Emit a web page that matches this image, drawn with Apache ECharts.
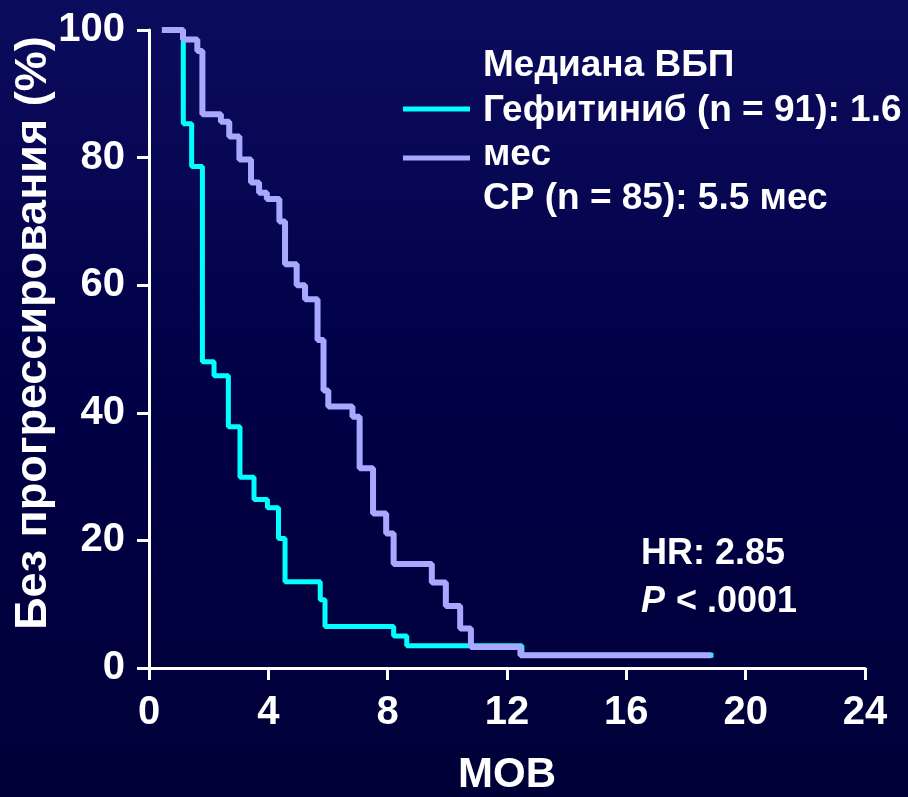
<!DOCTYPE html>
<html><head><meta charset="utf-8">
<script src="https://cdn.jsdelivr.net/npm/echarts@6/dist/echarts.min.js"></script>
<style>html,body{margin:0;padding:0;background:#00003f}#c{width:908px;height:797px}</style>
</head><body><div id="c"></div>
<script>
// Data (months, % progression-free)
const gefTimes = [0.45, 1.15, 1.43, 1.79, 2.18, 2.66, 3.05, 3.52, 3.97, 4.34, 4.56, 5.74, 5.90, 8.20, 8.64, 12.50, 18.92];
const gefSurv  = [100, 85.3, 78.6, 48.0, 45.8, 37.8, 29.9, 26.4, 25.1, 20.3, 13.5, 10.7, 6.5, 5.0, 3.5, 2.0, 2.0];
const cpTimes = [0.43, 1.14, 1.62, 1.79, 2.41, 2.69, 3.03, 3.42, 3.69, 3.95, 4.37, 4.56, 4.95, 5.23, 5.65, 5.85, 6.01, 6.82, 7.06, 7.51, 7.95, 8.20, 9.48, 9.95, 10.43, 10.79, 12.45, 18.85];
const cpSurv  = [100, 98.5, 96.7, 86.8, 85.6, 83.3, 79.7, 76.1, 74.5, 73.5, 70.0, 63.3, 60.0, 57.8, 51.4, 43.5, 41.0, 39.4, 31.3, 24.2, 21.1, 16.3, 13.4, 9.7, 6.2, 3.3, 2.0, 2.0];
const xTicks = [0, 4, 8, 12, 16, 20, 24];
const yTicks = [0, 20, 40, 60, 80, 100];
const xTitle = 'МОВ';
const yTitle = 'Без прогрессирования (%)';
const legendTitle = 'Медиана ВБП';
const legendLines = ['Гефитиниб (n = 91): 1.6', 'мес', 'СР (n = 85): 5.5 мес'];
const statLines = ['HR: 2.85', '< .0001'];

const chart = echarts.init(document.getElementById('c'));
const sans = '"Liberation Sans", Arial, sans-serif';
const axisCommon = {
  axisLine: {show: true, lineStyle: {color: '#ffffff', width: 3}},
  axisTick: {show: true, inside: false, length: 12, lineStyle: {color: '#ffffff', width: 3}},
  splitLine: {show: false}
};
const zip = (a, b) => a.map((t, i) => [t, b[i]]);
const txt = (s, x, y, extra) => ({type: 'text', x: x, y: y,
  style: Object.assign({text: s, fill: '#fff', font: 'bold 37px ' + sans, verticalAlign: 'middle', align: 'left'}, extra || {})});
chart.setOption({
  backgroundColor: {type: 'linear', x: 0, y: 0, x2: 0, y2: 1, colorStops: [
    {offset: 0, color: '#0c0c5e'}, {offset: 0.5, color: '#000046'}, {offset: 1, color: '#000038'}]},
  animation: false,
  grid: {left: 149, right: 43, top: 30, bottom: 129, containLabel: false, outerBoundsMode: 'none'},
  xAxis: Object.assign({
    type: 'value', min: xTicks[0], max: xTicks[xTicks.length - 1], interval: 4,
    name: xTitle, nameLocation: 'middle', nameGap: 86,
    nameTextStyle: {color: '#fff', fontSize: 42, fontWeight: 'bold', fontFamily: sans},
    axisLabel: {color: '#fff', fontSize: 40, fontWeight: 'bold', fontFamily: sans, margin: 25}
  }, axisCommon),
  yAxis: Object.assign({
    type: 'value', min: yTicks[0], max: yTicks[yTicks.length - 1], interval: 20,
    axisLabel: {color: '#fff', fontSize: 40, fontWeight: 'bold', fontFamily: sans, margin: 24}
  }, axisCommon),
  series: [
    {type: 'line', step: 'end', data: zip(gefTimes, gefSurv), symbol: 'none',
     lineStyle: {color: '#00ffff', width: 5}},
    {type: 'line', step: 'end', data: zip(cpTimes, cpSurv), symbol: 'none',
     lineStyle: {color: '#a8a8ff', width: 6}}
  ],
  graphic: [
    {type: 'text', x: 34, y: 333, rotation: Math.PI / 2,
     style: {text: yTitle, fill: '#fff', font: 'bold 45px ' + sans, align: 'center', verticalAlign: 'middle'}},
    {type: 'line', shape: {x1: 403, y1: 109, x2: 470, y2: 109}, style: {stroke: '#00ffff', lineWidth: 5}},
    {type: 'line', shape: {x1: 403, y1: 158, x2: 470, y2: 158}, style: {stroke: '#a8a8ff', lineWidth: 5}},
    txt(legendTitle, 483, 66),
    txt(legendLines[0], 483, 111),
    txt(legendLines[1], 483, 155),
    txt(legendLines[2], 483, 199),
    txt(statLines[0], 641, 554, {font: 'bold 36px ' + sans}),
    txt('P', 641, 602, {font: 'italic bold 36px ' + sans}),
    txt(statLines[1], 676, 602, {font: 'bold 36px ' + sans})
  ]
});
</script></body></html>
